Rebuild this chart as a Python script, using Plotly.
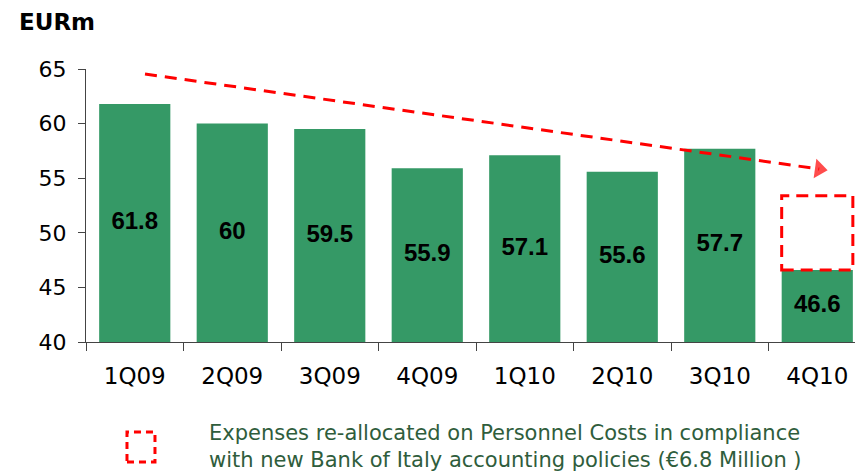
import plotly.graph_objects as go

# Quarterly operating expenses, EUR millions
quarters = ["1Q09", "2Q09", "3Q09", "4Q09", "1Q10", "2Q10", "3Q10", "4Q10"]
expenses = [61.8, 60, 59.5, 55.9, 57.1, 55.6, 57.7, 46.6]
reallocated = 6.8  # moved to personnel costs in 4Q10
y_floor = 40

BAR_GREEN = "#359966"
RED = "#ff0000"
ARIAL = "Liberation Sans, Arial, sans-serif"
WIDE = "DejaVu Sans, Verdana, sans-serif"

fig = go.Figure()

fig.add_trace(go.Bar(
    x=quarters,
    y=expenses,
    marker=dict(color=BAR_GREEN, line=dict(width=0)),
    hoverinfo="skip",
))

# Value labels centred in the visible part of each bar
fig.add_trace(go.Scatter(
    x=quarters,
    y=[(v + y_floor) / 2 for v in expenses],
    mode="text",
    text=[f"{v:g}" for v in expenses],
    textposition="middle center",
    textfont=dict(family=ARIAL, size=24, color="black", weight="bold"),
    hoverinfo="skip",
))

# Trend arrow drawn on a hidden linear axis overlaying the category axis
fig.add_trace(go.Scatter(
    x=[0.105, 7.02],
    y=[64.54, 55.84],
    xaxis="x2",
    mode="lines+markers",
    line=dict(color=RED, width=3, dash="12px,8px"),
    marker=dict(symbol=["circle", "triangle-up"], size=[0, 17],
                color=RED, angleref="previous", line=dict(width=0)),
    hoverinfo="skip",
    cliponaxis=False,
))

last = len(quarters) - 1
half_bar = 0.365
# Re-allocated amount shown as an empty dashed box on top of the last bar
fig.add_shape(
    type="rect", xref="x", yref="y",
    x0=last - half_bar, x1=last + half_bar,
    y0=expenses[last], y1=expenses[last] + reallocated,
    line=dict(color=RED, width=3, dash="12px,7px"),
    fillcolor="rgba(0,0,0,0)",
)

# Legend swatch
fig.add_shape(
    type="rect", xref="paper", yref="paper",
    x0=0.0533, x1=0.0897, y0=-0.4396, y1=-0.3297,
    line=dict(color=RED, width=3, dash="7px,5px"),
    fillcolor="rgba(0,0,0,0)",
)
fig.add_annotation(
    xref="paper", yref="paper", x=0.1574, y=-0.3846,
    xanchor="left", yanchor="middle", align="left", showarrow=False,
    text="Expenses re-allocated on Personnel Costs in compliance<br>"
         "with new Bank of Italy accounting policies (€6.8 Million )",
    font=dict(family=WIDE, size=21, color="#2f5d3c"),
)

fig.add_annotation(
    xref="paper", yref="paper", x=-0.09, y=1.172,
    xanchor="left", yanchor="middle", showarrow=False,
    text="<b>EURm</b>",
    font=dict(family=WIDE, size=23, color="black"),
)

fig.update_layout(
    width=855, height=472,
    margin=dict(l=86, r=0, t=69, b=130),
    paper_bgcolor="white", plot_bgcolor="white",
    showlegend=False,
    bargap=0.27,
    font=dict(family=WIDE, color="black"),
    xaxis=dict(
        type="category",
        range=[-0.5, 7.387],
        showline=True, linecolor="#444", linewidth=1,
        ticks="outside", tickson="boundaries", ticklen=8, tickcolor="#444",
        tickfont=dict(family=WIDE, size=23, color="black"),
        showgrid=False, zeroline=False,
        ticklabelstandoff=13,
    ),
    xaxis2=dict(
        overlaying="x", range=[-0.5, 7.387], visible=False,
    ),
    yaxis=dict(
        range=[40, 65],
        tickvals=[40, 45, 50, 55, 60, 65],
        showline=True, linecolor="#444", linewidth=1,
        ticks="outside", ticklen=7, tickcolor="#444",
        tickfont=dict(family=WIDE, size=22, color="black"),
        showgrid=False, zeroline=False,
        ticklabelstandoff=7,
    ),
)

fig.write_html("out.html")
